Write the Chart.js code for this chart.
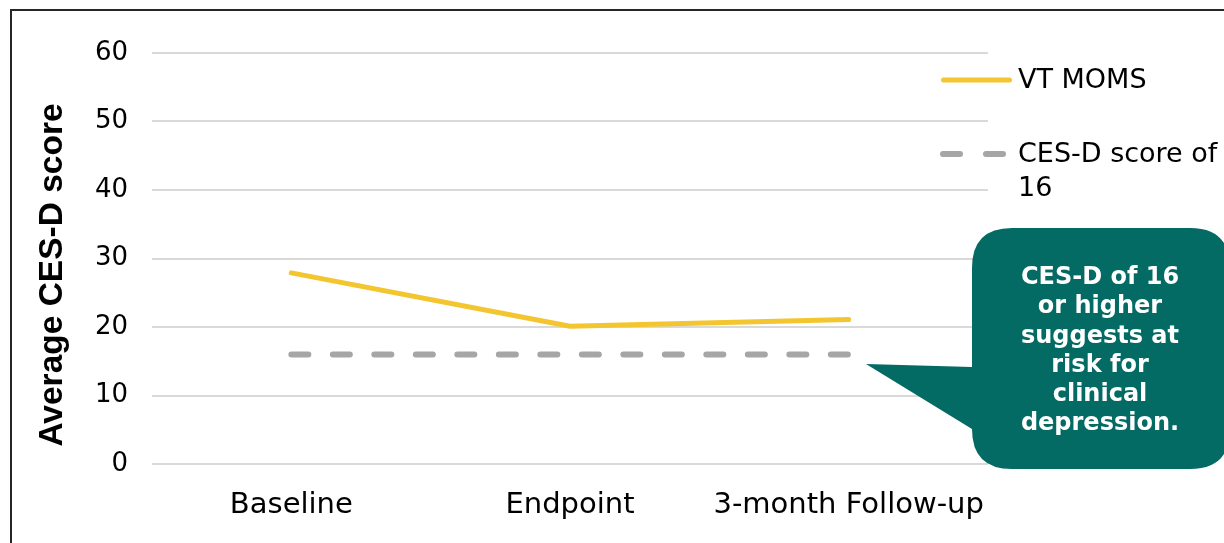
<!DOCTYPE html>
<html>
<head>
<meta charset="utf-8">
<script src="https://cdn.jsdelivr.net/npm/chart.js@4"></script>
<style>
  html, body { margin: 0; padding: 0; background: #ffffff; }
  #wrap { width: 1224px; height: 543px; position: relative; overflow: hidden; }
</style>
</head>
<body>
<div id="wrap"><canvas id="c" width="1224" height="543"></canvas></div>
<script>
// Average CES-D score at each time point
const categories = ['Baseline', 'Endpoint', '3-month Follow-up'];
const vtMoms = [27.9, 20.1, 21.1];
const cutoff = [16, 16, 16];
const yTicks = [0, 10, 20, 30, 40, 50, 60];
const seriesNames = ['VT MOMS', ['CES-D score of', '16']];
const yTitle = 'Average CES-D score';
const calloutLines = ['CES-D of 16', 'or higher', 'suggests at', 'risk for', 'clinical', 'depression.'];

const YELLOW = '#F3C62F';
const GREY = '#A6A6A6';
const TEAL = '#046A64';
const FONT = '"DejaVu Sans", Verdana, sans-serif';

// Frame, axis title, legend and callout bubble
const decorations = {
  id: 'decorations',
  beforeDraw(chart) {
    const ctx = chart.ctx;
    ctx.save();
    ctx.fillStyle = '#ffffff';
    ctx.fillRect(0, 0, chart.width, chart.height);
    ctx.strokeStyle = '#262626';
    ctx.lineWidth = 2;
    ctx.strokeRect(11, 10, 2000, 2000);
    ctx.restore();
  },
  afterDraw(chart) {
    const ctx = chart.ctx;
    ctx.save();

    // vertical axis title
    ctx.translate(53, 275);
    ctx.rotate(-Math.PI / 2);
    ctx.fillStyle = '#000000';
    ctx.font = 'bold 33.5px "Liberation Sans", Arial, sans-serif';
    ctx.textAlign = 'center';
    ctx.textBaseline = 'middle';
    ctx.fillText(yTitle, 0, 0);
    ctx.restore();

    // legend
    ctx.save();
    ctx.lineCap = 'round';
    ctx.strokeStyle = YELLOW;
    ctx.lineWidth = 5;
    ctx.beginPath();
    ctx.moveTo(943.5, 80);
    ctx.lineTo(1009.5, 80);
    ctx.stroke();

    ctx.strokeStyle = GREY;
    ctx.lineWidth = 6;
    ctx.setLineDash([17, 26]);
    ctx.beginPath();
    ctx.moveTo(943, 154);
    ctx.lineTo(1003, 154);
    ctx.stroke();
    ctx.setLineDash([]);

    ctx.fillStyle = '#000000';
    ctx.font = '27px ' + FONT;
    ctx.textAlign = 'left';
    ctx.textBaseline = 'middle';
    ctx.fillText(seriesNames[0], 1018, 81);
    seriesNames[1].forEach((t, i) => ctx.fillText(t, 1018, 155 + i * 34));
    ctx.restore();

    // callout bubble
    ctx.save();
    const x0 = 972, y0 = 228, x1 = 1230, y1 = 469, r = 40;
    ctx.fillStyle = TEAL;
    ctx.beginPath();
    ctx.moveTo(x0 + r, y0);
    ctx.lineTo(x1 - r, y0);
    ctx.quadraticCurveTo(x1, y0, x1, y0 + r);
    ctx.lineTo(x1, y1 - r);
    ctx.quadraticCurveTo(x1, y1, x1 - r, y1);
    ctx.lineTo(x0 + r, y1);
    ctx.quadraticCurveTo(x0, y1, x0, y1 - r);
    ctx.lineTo(x0, 429);
    ctx.lineTo(866, 364);
    ctx.lineTo(x0, 367);
    ctx.lineTo(x0, y0 + r);
    ctx.quadraticCurveTo(x0, y0, x0 + r, y0);
    ctx.closePath();
    ctx.fill();

    ctx.fillStyle = '#ffffff';
    ctx.font = 'bold 24px ' + FONT;
    ctx.textAlign = 'center';
    ctx.textBaseline = 'middle';
    calloutLines.forEach((t, i) => ctx.fillText(t, 1100, 278 + i * 29.2));
    ctx.restore();
  }
};

new Chart(document.getElementById('c'), {
  type: 'line',
  data: {
    labels: categories,
    datasets: [
      {
        label: 'VT MOMS',
        data: vtMoms,
        borderColor: YELLOW,
        backgroundColor: YELLOW,
        borderWidth: 5,
        borderCapStyle: 'round',
        borderJoinStyle: 'round',
        pointRadius: 0,
        tension: 0,
        fill: false
      },
      {
        label: 'CES-D score of 16',
        data: cutoff,
        borderColor: GREY,
        backgroundColor: GREY,
        borderWidth: 6,
        borderDash: [17, 24.5],
        borderCapStyle: 'round',
        pointRadius: 0,
        tension: 0,
        fill: false
      }
    ]
  },
  options: {
    responsive: false,
    animation: false,
    devicePixelRatio: 1,
    layout: { padding: { top: 53, right: 236, bottom: 0, left: 0 } },
    plugins: {
      legend: { display: false },
      tooltip: { enabled: false }
    },
    scales: {
      x: {
        offset: true,
        grid: { display: false, drawTicks: false },
        border: { display: false },
        ticks: {
          color: '#000000',
          font: { family: FONT, size: 29 },
          padding: 24,
          maxRotation: 0,
          autoSkip: false
        },
        afterFit(scale) { scale.height = 79; }
      },
      y: {
        min: 0,
        max: 60,
        afterBuildTicks(scale) { scale.ticks = yTicks.map(v => ({ value: v })); },
        grid: { color: '#D9D9D9', lineWidth: 2, drawTicks: false },
        border: { display: false },
        ticks: {
          color: '#000000',
          font: { family: FONT, size: 26 },
          padding: 24
        },
        afterFit(scale) { scale.width = 152; }
      }
    }
  },
  plugins: [decorations]
});
</script>
</body>
</html>
